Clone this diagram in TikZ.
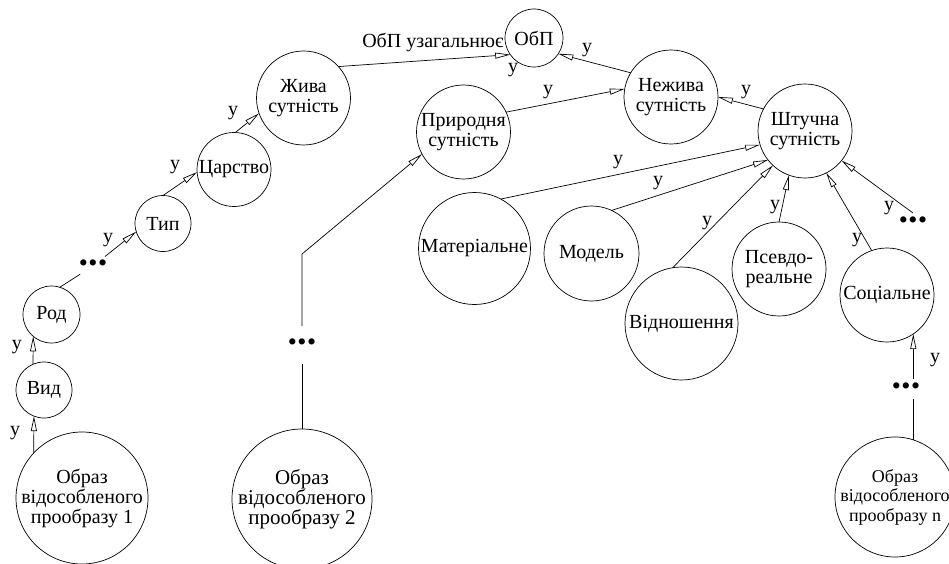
\documentclass[tikz,border=0pt]{standalone}
\usepackage{fontspec}
\setmainfont{Liberation Serif}
\usetikzlibrary{arrows.meta}
\tikzset{
  ent/.style={circle, draw, line width=0.7pt, inner sep=0pt, outer sep=0pt},
  txt/.style={inner sep=0pt, align=center, font=\fontsize{20}{20}\selectfont},
  lbl/.style={inner sep=0pt, font=\fontsize{20}{20}\selectfont},
  dotsn/.style={rectangle, inner sep=0pt, outer sep=0pt, minimum height=20pt, font=\fontsize{26}{26}\selectfont},
  conn/.style={line width=0.7pt},
  arr/.style={conn, -{Triangle[open, length=15pt, width=6pt]}},
}
\newcommand{\mydots}{•\kern0.5pt•\kern0.5pt•}
\begin{document}
\begin{tikzpicture}[x=1pt, y=-1pt]
\useasboundingbox (0,0) rectangle (949,564);
% entities
\node[ent, minimum size=58pt, label={[txt]center:ОбП}] (obp) at (534,38) {};
\node[ent, minimum size=94pt, label={[txt]center:Жива\\сутність}] (jiva) at (303.5,98) {};
\node[ent, minimum size=74pt, label={[txt]center:Царство}] (carstvo) at (234,169.5) {};
\node[ent, minimum size=56pt, label={[txt]center:Тип}] (typ) at (163,223.5) {};
\node[ent, minimum size=57pt, label={[txt]center:Род}] (rod) at (51.5,314.5) {};
\node[ent, minimum size=56pt, label={[txt]center:Вид}] (vyd) at (44,390) {};
\node[ent, minimum size=132pt, label={[txt]center:Образ\\відособленого\\прообразу 1}] (obr1) at (82,498) {};
\node[dotsn, circle, minimum size=28pt] (dotsL) at (93,266) {\mydots};
\node[ent, minimum size=94pt, label={[txt]center:Природня\\сутність}] (prir) at (463.5,132) {};
\node[dotsn, circle, minimum size=38pt] (dotsM) at (302,345) {\mydots};
\node[ent, minimum size=140pt, label={[txt, font=\fontsize{21}{19.5}\selectfont]center:Образ\\відособленого\\прообразу 2}] (obr2) at (302,499) {};
\node[ent, minimum size=94pt, label={[txt]center:Нежива\\сутність}] (nezh) at (671,97) {};
\node[ent, minimum size=94pt, label={[txt]center:Штучна\\сутність}] (sht) at (805,131) {};
\node[ent, minimum size=112pt, label={[txt]center:Матеріальне}] (mat) at (474.5,248.5) {};
\node[ent, minimum size=95pt, label={[txt]center:Модель}] (model) at (591.5,253.5) {};
\node[ent, minimum size=113pt, label={[txt]center:Відношення}] (vidn) at (681.5,323.5) {};
\node[ent, minimum size=94pt, label={[txt]center:Псевдо-\\реальне}] (psevdo) at (779,269) {};
\node[ent, minimum size=94pt, label={[txt]center:Соціальне}] (soc) at (887,295) {};
\node[dotsn] (dotsR) at (913,223) {\mydots};
\node[dotsn] (dotsN) at (906,389) {\mydots};
\node[ent, minimum size=120pt, label={[txt, font=\fontsize{18}{19.5}\selectfont]center:Образ\\відособленого\\прообразу n}] (obrn) at (895,497) {};
\coordinate (bendM) at (302,254);
% connectors
\draw[arr] (vyd.113) -- (rod.230);
\draw[arr] (obr1.137) -- (vyd.249);
\draw[conn] (rod.73) -- (dotsL);
\draw[arr] (dotsL) -- (typ.197);
\draw[arr] (typ.90) -- (carstvo.184);
\draw[arr] (carstvo.88) -- (jiva.199);
\draw[arr] (jiva.42) -- (obp.215);
\draw[arr] (nezh.149) -- (obp.327);
\draw[arr] (prir.25) -- (nezh.170);
\draw[arr] (sht.152) -- (nezh.0);
\draw[arr] (mat.62) -- (sht.197);
\draw[arr] (model.65) -- (sht.218);
\draw[arr] (vidn.99) -- (sht.227);
\draw[arr] (psevdo.90) -- (sht.250);
\draw[arr] (soc.109) -- (sht.297);
\draw[arr] (dotsR.north) -- (sht.321);
\draw[conn] (obr2.north) -- (dotsM.south);
\draw[arr] (dotsM.north) -- (bendM) -- (prir.208);
\draw[conn] (obrn.72) -- (obrn.72 |- dotsN.south);
\draw[arr] (soc.304 |- dotsN.north) -- (soc.304);
% labels
\node[lbl] (l1) at (17,347) {у};
\node[lbl] (l2) at (15,433) {у};
\node[lbl] (l3) at (108,240) {у};
\node[lbl] (l4) at (175,167) {у};
\node[lbl] (l5) at (233,113) {у};
\node[lbl] (l6) at (513,70) {у};
\node[lbl] (l7) at (433,43) {ОбП узагальнює};
\node[lbl] (l8) at (587,50) {у};
\node[lbl] (l9) at (548,92) {у};
\node[lbl] (l10) at (746,92) {у};
\node[lbl] (l11) at (618,162) {у};
\node[lbl] (l12) at (658,183) {у};
\node[lbl] (l13) at (707,223) {у};
\node[lbl] (l14) at (775,207) {у};
\node[lbl] (l15) at (857,240) {у};
\node[lbl] (l16) at (889,208) {у};
\node[lbl] (l17) at (935,360) {у};
\end{tikzpicture}
\end{document}
